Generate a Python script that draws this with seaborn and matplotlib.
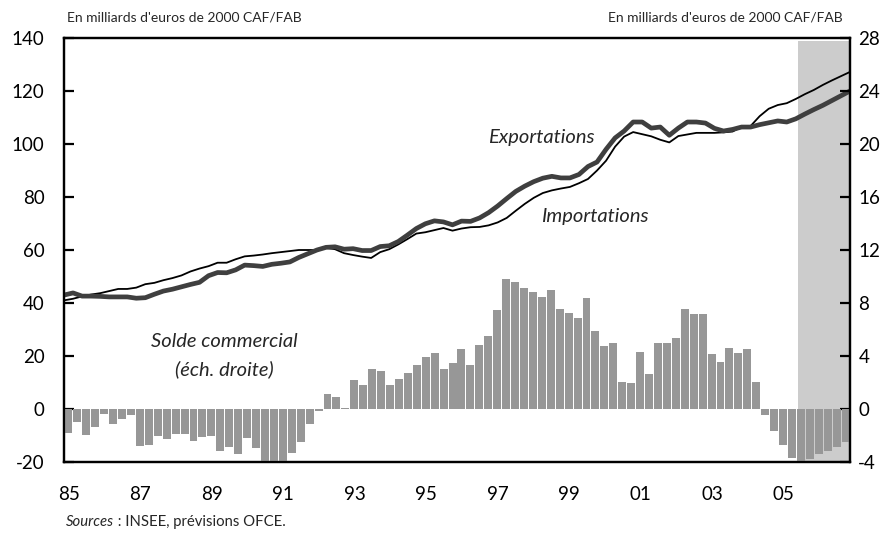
import numpy as np
import matplotlib
matplotlib.use("Agg")
import matplotlib.pyplot as plt
import matplotlib.transforms as mtransforms
import seaborn as sns

# Solde commercial trimestriel (échelle droite), 1985T1 -> 2006T4
solde = [
    -1.84, -0.96, -1.94, -1.33,   # 1985
    -0.40, -1.11, -0.73, -0.43,   # 1986
    -2.77, -2.69, -2.01, -2.24,   # 1987
    -1.86, -1.86, -2.39, -2.09,   # 1988
    -2.01, -3.14, -2.84, -3.42,   # 1989
    -2.16, -2.92, -4.30, -4.60,   # 1990
    -4.40, -3.35, -2.50, -1.15,   # 1991
    -0.15, 1.15, 0.90, 0.10,      # 1992
    2.20, 1.80, 3.00, 2.90,       # 1993
    1.80, 2.30, 2.75, 3.35,       # 1994
    3.90, 4.20, 3.00, 3.50,       # 1995
    4.50, 3.35, 4.80, 5.50,       # 1996
    7.50, 9.80, 9.60, 9.10,       # 1997
    8.85, 8.45, 9.00, 7.55,       # 1998
    7.25, 6.90, 8.40, 5.90,       # 1999
    4.75, 5.00, 2.05, 1.95,       # 2000
    4.30, 2.65, 5.00, 5.00,       # 2001
    5.35, 7.55, 7.20, 7.20,       # 2002
    4.15, 3.55, 4.60, 4.20,       # 2003
    4.50, 2.05, -0.45, -1.65,     # 2004
    -2.75, -3.70, -4.10, -3.80,   # 2005
    -3.40, -3.20, -2.90, -2.50,   # 2006
]

exportations = [
    43.0, 43.8, 42.6, 42.6, 42.5, 42.3, 42.3, 42.3,
    41.8, 42.0, 43.3, 44.5, 45.2, 46.1, 47.0, 47.8,
    50.3, 51.5, 51.4, 52.5, 54.3, 54.1, 53.8, 54.6,
    55.0, 55.5, 57.2, 58.6, 60.0, 61.0, 61.2, 60.3,
    60.5, 59.8, 59.8, 61.3, 61.6, 63.2, 65.6, 68.1,
    69.9, 71.0, 70.6, 69.5, 70.9, 70.8, 72.1, 74.1,
    76.6, 79.4, 82.1, 84.1, 85.8, 87.1, 87.8, 87.2,
    87.2, 88.5, 91.5, 93.2, 98.0, 102.3, 104.9, 108.3,
    108.3, 106.0, 106.4, 103.3, 106.0, 108.3, 108.3, 107.9,
    105.9, 104.9, 105.5, 106.4, 106.4, 107.3, 108.0, 108.7,
    108.3, 109.5, 111.3, 113.0, 114.6, 116.4, 118.2, 120.0,
]

importations = [
    41.0, 41.6, 42.5, 43.2, 43.7, 44.5, 45.3, 45.3,
    45.8, 47.1, 47.6, 48.6, 49.4, 50.4, 51.9, 53.0,
    53.9, 55.2, 55.2, 56.5, 57.6, 57.9, 58.3, 58.8,
    59.2, 59.6, 60.0, 60.0, 60.0, 60.8, 60.3, 58.8,
    58.1, 57.5, 57.0, 59.2, 60.3, 62.1, 64.1, 66.2,
    66.7, 67.5, 68.3, 67.3, 68.1, 68.6, 68.7, 69.3,
    70.4, 72.1, 74.8, 77.4, 79.7, 81.5, 82.5, 83.2,
    83.8, 85.2, 86.8, 90.0, 93.7, 99.0, 102.8, 104.5,
    103.7, 102.9, 101.6, 100.6, 103.0, 103.6, 104.2, 104.2,
    104.2, 104.4, 104.7, 106.4, 106.8, 110.5, 113.3, 114.7,
    115.4, 117.0, 118.8, 120.4, 122.3, 124.0, 125.6, 127.2,
]

annees = list(range(1985, 2008))
etiquettes = ["85", "", "87", "", "89", "", "91", "", "93", "", "95", "",
              "97", "", "99", "", "01", "", "03", "", "05", "", ""]
debut_prevision = 2005.55

sns.set_theme(style="white")
plt.rcParams["font.family"] = ["Lato", "DejaVu Sans"]
plt.rcParams["axes.unicode_minus"] = False

n = len(solde)
x_trim = 1985 + 0.125 + 0.25 * np.arange(n)
x_lignes = np.linspace(1985, 2007, n)

fig = plt.figure(figsize=(8.96, 5.33), dpi=100)
ax = fig.add_axes([64 / 896, 1 - 462 / 533, (850 - 64) / 896, (462 - 38) / 533])
ax2 = ax.twinx()
ax.set_zorder(1)
ax2.set_zorder(2)
ax2.patch.set_visible(False)

# zone de prévision
ax.axvspan(debut_prevision, 2007, ymin=0, ymax=0.992, color="#cccccc", lw=0, zorder=0)

sns.lineplot(x=x_lignes, y=importations, ax=ax, color="black", linewidth=1.3, zorder=3)
sns.lineplot(x=x_lignes, y=exportations, ax=ax, color="#3f3f3f", linewidth=3.4, zorder=4)

sns.barplot(x=x_trim, y=solde, ax=ax2, native_scale=True, width=0.89,
            color="#979797", saturation=1, errorbar=None, linewidth=0)

ax.set_xlim(1985, 2007)
ax2.set_xlim(1985, 2007)
ax.set_ylim(-20, 140)
ax2.set_ylim(-4, 28)
ax.set_yticks(range(-20, 141, 20))
ax2.set_yticks(range(-4, 29, 4))
ax.set_xticks(annees)
ax.set_xticklabels(etiquettes)
ax.set_xlabel("")
ax.set_ylabel("")
ax2.set_ylabel("")

for a in (ax, ax2):
    for s in a.spines.values():
        s.set_linewidth(1.6)
        s.set_color("black")

ax.tick_params(axis="y", direction="in", length=7, width=1.6, pad=14, labelsize=13.5, colors="black")
ax.tick_params(axis="x", direction="in", length=7, width=1.6, pad=17, labelsize=13.5, colors="black")
ax2.tick_params(axis="y", direction="in", length=7, width=1.6, pad=6, labelsize=13.5, colors="black")

decal = mtransforms.ScaledTranslation(5 / 100, 0, fig.dpi_scale_trans)
for lbl in ax.get_xticklabels():
    lbl.set_transform(lbl.get_transform() + decal)

ax.text(1998.35, 102.6, "Exportations", style="italic", fontsize=14.5, ha="center", va="center")
ax.text(1999.85, 72.8, "Importations", style="italic", fontsize=14.5, ha="center", va="center")
ax.text(1989.5, 25.3, "Solde commercial", style="italic", fontsize=14.5, ha="center", va="center")
ax.text(1989.5, 15.1, "(éch. droite)", style="italic", fontsize=14.5, ha="center", va="center")

fig.text(67 / 896, 1 - 18 / 533, "En milliards d'euros de 2000 CAF/FAB", fontsize=10, va="center", ha="left")
fig.text(843 / 896, 1 - 18 / 533, "En milliards d'euros de 2000 CAF/FAB", fontsize=10, va="center", ha="right")

t = fig.text(66 / 896, 1 - 522 / 533, "Sources", style="italic", fontsize=10.7, va="center", ha="left")
renderer = fig.canvas.get_renderer()
bb = t.get_window_extent(renderer=renderer)
fig.text(bb.x1 / fig.bbox.width, 1 - 522 / 533, " : INSEE, prévisions OFCE.", fontsize=10.7, va="center", ha="left")

fig.savefig("out.png", dpi=100)
